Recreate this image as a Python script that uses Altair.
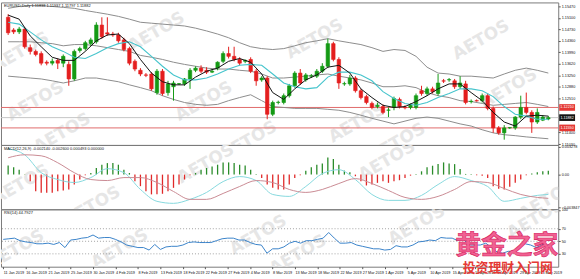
import json
import altair as alt
import pandas as pd

# ---------------- data ----------------
date_labels = ["11 Jan 2019", "16 Jan 2019", "21 Jan 2019", "25 Jan 2019", "30 Jan 2019",
               "4 Feb 2019", "8 Feb 2019", "13 Feb 2019", "18 Feb 2019", "22 Feb 2019",
               "27 Feb 2019", "4 Mar 2019", "8 Mar 2019", "13 Mar 2019", "18 Mar 2019",
               "22 Mar 2019", "27 Mar 2019", "1 Apr 2019", "5 Apr 2019", "10 Apr 2019",
               "15 Apr 2019", "19 Apr 2019", "24 Apr 2019", "29 Apr 2019", "3 May 2019"]

opens = [1.1512, 1.1471, 1.1465, 1.1474, 1.1414, 1.1402, 1.1395, 1.1367, 1.1364, 1.1373,
         1.1364, 1.1360, 1.1313, 1.1405, 1.1411, 1.1427, 1.1433, 1.1487, 1.1462, 1.1458,
         1.1455, 1.1439, 1.1411, 1.1370, 1.1341, 1.1326, 1.1329, 1.1269, 1.1338, 1.1269,
         1.1288, 1.1297, 1.1297, 1.1313, 1.1341, 1.1348, 1.1341, 1.1335, 1.1348, 1.1370,
         1.1395, 1.1386, 1.1376, 1.1370, 1.1376, 1.1338, 1.1310, 1.1316, 1.1199, 1.1237,
         1.1237, 1.1259, 1.1291, 1.1332, 1.1310, 1.1322, 1.1322, 1.1338, 1.1354, 1.1427,
         1.1376, 1.1297, 1.1297, 1.1316, 1.1275, 1.1256, 1.1234, 1.1224, 1.1224, 1.1212,
         1.1221, 1.1247, 1.1221, 1.1221, 1.1221, 1.1275, 1.1266, 1.1281, 1.1266, 1.1307,
         1.1310, 1.1307, 1.1288, 1.1297, 1.1240, 1.1243, 1.1243, 1.1259, 1.1218, 1.1155,
         1.1139, 1.1155, 1.1155, 1.1190, 1.1221, 1.1205, 1.1174, 1.1180, 1.11838]
highs = [1.1522, 1.1477, 1.1481, 1.1481, 1.1424, 1.1408, 1.1402, 1.1373, 1.1379, 1.1379,
         1.1392, 1.1370, 1.1408, 1.1417, 1.1436, 1.1446, 1.1496, 1.1512, 1.1512, 1.1465,
         1.1462, 1.1446, 1.1417, 1.1376, 1.1348, 1.1332, 1.1335, 1.1345, 1.1345, 1.1307,
         1.1307, 1.1300, 1.1316, 1.1348, 1.1354, 1.1357, 1.1351, 1.1345, 1.1370, 1.1402,
         1.1417, 1.1417, 1.1383, 1.1376, 1.1383, 1.1345, 1.1322, 1.1322, 1.1243, 1.1243,
         1.1266, 1.1297, 1.1338, 1.1345, 1.1332, 1.1329, 1.1345, 1.1364, 1.1443, 1.1433,
         1.1383, 1.1304, 1.1326, 1.1322, 1.1281, 1.1262, 1.1240, 1.1237, 1.1231, 1.1221,
         1.1256, 1.1253, 1.1228, 1.1234, 1.1266, 1.1291, 1.1288, 1.1288, 1.1329, 1.1313,
         1.1316, 1.1313, 1.1322, 1.1307, 1.1247, 1.1247, 1.1266, 1.1266, 1.1224, 1.1161,
         1.1164, 1.1158, 1.1193, 1.1259, 1.1269, 1.1212, 1.1218, 1.1196, 1.11937]
lows = [1.1455, 1.1458, 1.1458, 1.1411, 1.1392, 1.1386, 1.1357, 1.1357, 1.1357, 1.1345,
        1.1351, 1.1291, 1.1307, 1.1398, 1.1405, 1.1420, 1.1427, 1.1443, 1.1452, 1.1449,
        1.1430, 1.1402, 1.1357, 1.1338, 1.1322, 1.1319, 1.1275, 1.1262, 1.1259, 1.1259,
        1.1243, 1.1294, 1.1291, 1.1281, 1.1335, 1.1332, 1.1329, 1.1332, 1.1341, 1.1364,
        1.1379, 1.1370, 1.1357, 1.1364, 1.1332, 1.1291, 1.1304, 1.1183, 1.1193, 1.1231,
        1.1231, 1.1253, 1.1285, 1.1294, 1.1304, 1.1316, 1.1316, 1.1332, 1.1348, 1.1370,
        1.1281, 1.1291, 1.1291, 1.1269, 1.1247, 1.1231, 1.1215, 1.1218, 1.1199, 1.1190,
        1.1212, 1.1218, 1.1215, 1.1215, 1.1215, 1.1259, 1.1259, 1.1266, 1.1259, 1.1300,
        1.1304, 1.1281, 1.1281, 1.1231, 1.1234, 1.1240, 1.1237, 1.1212, 1.1139, 1.1133,
        1.1117, 1.1152, 1.1149, 1.1183, 1.1199, 1.1139, 1.1168, 1.1177, 1.11797]
closes = [1.1462, 1.1465, 1.1474, 1.1417, 1.1402, 1.1392, 1.1364, 1.1364, 1.1370, 1.1364,
          1.1386, 1.1313, 1.1402, 1.1411, 1.1430, 1.1439, 1.1487, 1.1449, 1.1458, 1.1455,
          1.1436, 1.1408, 1.1364, 1.1345, 1.1329, 1.1325, 1.1281, 1.1338, 1.1266, 1.1297,
          1.1300, 1.1298, 1.1313, 1.1341, 1.1348, 1.1338, 1.1335, 1.1338, 1.1367, 1.1395,
          1.1386, 1.1376, 1.1364, 1.1373, 1.1338, 1.1307, 1.1316, 1.1199, 1.1237, 1.1238,
          1.1259, 1.1291, 1.1332, 1.1300, 1.1326, 1.1323, 1.1338, 1.1354, 1.1427, 1.1376,
          1.1300, 1.1298, 1.1316, 1.1275, 1.1253, 1.1237, 1.1221, 1.1228, 1.1205, 1.1213,
          1.1250, 1.1224, 1.1220, 1.1228, 1.1259, 1.1266, 1.1281, 1.1272, 1.1300, 1.1306,
          1.1311, 1.1288, 1.1300, 1.1237, 1.1241, 1.1242, 1.1259, 1.1218, 1.1155, 1.1139,
          1.1155, 1.1156, 1.1190, 1.1221, 1.1205, 1.1174, 1.1205, 1.1190, 1.11882]

# Bollinger bands and moving averages, read every second bar
bb_upper = [1.1541, 1.1547, 1.1550, 1.1550, 1.1547, 1.1544, 1.1541, 1.1534, 1.1528, 1.1522,
            1.1515, 1.1506, 1.1496, 1.1493, 1.1490, 1.1487, 1.1484, 1.1477, 1.1468, 1.1458,
            1.1446, 1.1430, 1.1417, 1.1411, 1.1408, 1.1411, 1.1420, 1.1430, 1.1436, 1.1443,
            1.1436, 1.1430, 1.1424, 1.1414, 1.1402, 1.1408, 1.1405, 1.1386, 1.1351, 1.1332,
            1.1329, 1.1322, 1.1322, 1.1319, 1.1316, 1.1329, 1.1341, 1.1348, 1.1341, 1.1332]
bb_middle = [1.1433, 1.1433, 1.1433, 1.1430, 1.1427, 1.1420, 1.1424, 1.1424, 1.1420, 1.1414,
             1.1408, 1.1402, 1.1389, 1.1383, 1.1376, 1.1367, 1.1360, 1.1354, 1.1348, 1.1345,
             1.1345, 1.1341, 1.1338, 1.1329, 1.1316, 1.1316, 1.1319, 1.1322, 1.1326, 1.1329,
             1.1322, 1.1316, 1.1310, 1.1300, 1.1288, 1.1288, 1.1291, 1.1285, 1.1269, 1.1259,
             1.1253, 1.1243, 1.1240, 1.1234, 1.1228, 1.1231, 1.1234, 1.1237, 1.1231, 1.1224]
bb_lower = [1.1322, 1.1319, 1.1316, 1.1313, 1.1307, 1.1300, 1.1307, 1.1316, 1.1316, 1.1310,
            1.1304, 1.1294, 1.1285, 1.1275, 1.1259, 1.1247, 1.1237, 1.1231, 1.1228, 1.1231,
            1.1243, 1.1253, 1.1262, 1.1243, 1.1224, 1.1221, 1.1218, 1.1218, 1.1218, 1.1215,
            1.1212, 1.1205, 1.1196, 1.1186, 1.1177, 1.1168, 1.1177, 1.1186, 1.1190, 1.1186,
            1.1177, 1.1168, 1.1161, 1.1149, 1.1139, 1.1133, 1.1130, 1.1126, 1.1123, 1.1120]
ma_fast = [1.1519, 1.1506, 1.1452, 1.1417, 1.1383, 1.1373, 1.1373, 1.1402, 1.1436, 1.1455,
           1.1458, 1.1427, 1.1376, 1.1332, 1.1304, 1.1294, 1.1294, 1.1319, 1.1338, 1.1348,
           1.1370, 1.1379, 1.1367, 1.1329, 1.1269, 1.1247, 1.1281, 1.1310, 1.1326, 1.1351,
           1.1357, 1.1332, 1.1281, 1.1253, 1.1228, 1.1221, 1.1224, 1.1240, 1.1259, 1.1281,
           1.1297, 1.1297, 1.1269, 1.1243, 1.1205, 1.1174, 1.1161, 1.1193, 1.1196, 1.1193]
ma_slow = [1.1496, 1.1490, 1.1465, 1.1439, 1.1417, 1.1402, 1.1383, 1.1379, 1.1395, 1.1414,
           1.1427, 1.1433, 1.1417, 1.1386, 1.1354, 1.1326, 1.1310, 1.1310, 1.1316, 1.1329,
           1.1345, 1.1357, 1.1360, 1.1357, 1.1329, 1.1300, 1.1288, 1.1281, 1.1285, 1.1319,
           1.1335, 1.1335, 1.1326, 1.1307, 1.1272, 1.1250, 1.1234, 1.1228, 1.1237, 1.1253,
           1.1266, 1.1281, 1.1281, 1.1275, 1.1256, 1.1224, 1.1199, 1.1193, 1.1183, 1.1183]

macd_hist = [0.00109, 0.00086, 0.00058, 0.00004, -0.00078, -0.00195, -0.00214, -0.00214, -0.00214, -0.00195,
             -0.00187, -0.00175, -0.00117, -0.00058, -0.00008, 0.00019, 0.00078, 0.00117, 0.00136, 0.00136,
             0.00117, 0.00058, 0.00019, -0.00078, -0.00136, -0.00195, -0.00233, -0.00233, -0.00226, -0.00195,
             -0.00156, -0.00117, -0.00058, -0.00008, 0.00019, 0.00058, 0.00078, 0.00097, 0.00117, 0.00144,
             0.00144, 0.00136, 0.00117, 0.00109, 0.00058, 0.00008, -0.00039, -0.00117, -0.00156, -0.00175,
             -0.00175, -0.00117, -0.00039, -0.00008, 0.00047, 0.00086, 0.00117, 0.00132, 0.00202, 0.00183,
             0.00117, 0.00047, 0.00027, -0.00019, -0.00078, -0.00128, -0.00117, -0.00097, -0.00078, -0.00097,
             -0.00078, -0.00066, -0.00039, -0.00012, 0.00008, 0.00039, 0.00086, 0.00105, 0.00124, 0.00144,
             0.00132, 0.00124, 0.00066, 0.00008, 0.00008, -0.00008, -0.00012, -0.00039, -0.00136, -0.00167,
             -0.00175, -0.00144, -0.00097, -0.00058, -0.00008, 0.00012, 0.00027, 0.00039, 0.00047]
# MACD lines, read every third bar (plus the last bar)
macd_main = [0.00304, 0.00234, 0.00023, -0.00058, -0.00093, -0.00035, 0.00070, 0.00023, -0.00175, -0.00315,
             -0.00339, -0.00292, -0.00210, -0.00082, -0.00023, -0.00070, -0.00234, -0.00257, -0.00140, 0.00012,
             0.00058, -0.00058, -0.00234, -0.00304, -0.00304, -0.00245, -0.00117, -0.00023, -0.00070, -0.00140,
             -0.00315, -0.00280, -0.00245, -0.00234]
macd_signal = [0.00199, 0.00234, 0.00222, 0.00140, 0.00023, -0.00058, -0.00070, -0.00035, -0.00035, -0.00093,
               -0.00199, -0.00292, -0.00292, -0.00222, -0.00140, -0.00070, -0.00093, -0.00175, -0.00210, -0.00175,
               -0.00105, -0.00047, -0.00105, -0.00187, -0.00269, -0.00292, -0.00257, -0.00175, -0.00082, -0.00093,
               -0.00164, -0.00234, -0.00269, -0.00280]

rsi_values = [53, 54, 55, 51, 49, 48, 46, 46, 47, 45,
              48, 40, 52, 53, 55, 56, 60, 55, 56, 56,
              53, 49, 44, 42, 40, 40, 36, 45, 37, 41,
              42, 42, 44, 48, 49, 48, 48, 48, 51, 54,
              55, 55, 52, 52, 48, 45, 44, 31, 38, 38,
              41, 47, 50, 47, 51, 51, 53, 55, 64, 55,
              47, 47, 48, 44, 42, 40, 38, 38, 36, 37,
              43, 41, 41, 44, 49, 50, 52, 51, 56, 55,
              55, 51, 53, 44, 44, 44, 47, 40, 33, 31,
              34, 34, 41, 46, 44, 40, 45, 44, 44.79]

level_lines = [1.12210, 1.11550]
current_price = 1.11882
price_ticks = [1.15470, 1.15100, 1.14730, 1.14360, 1.13990, 1.13620, 1.13250,
               1.12880, 1.12510, 1.11400, 1.11030]
macd_ticks = [0.003278, 0.0, -0.003847]
rsi_levels = [70, 50, 30]
rsi_ticks = [100, 70, 50, 30]

title_main = "EURUSD,Daily  1.11838 1.11937 1.11797 1.11882"
title_macd = "MACD(12,26,9) -0.002140 -0.002600 0.000493 0.000000"
title_rsi = "RSI(14) 44.7927"

# ---------------- layout / style ----------------
N = len(closes)
bar_index = list(range(N))
band_index = list(range(0, N, 2))
macd_line_index = list(range(0, N, 3)) + [N - 1]

W = 563
H_MAIN, H_MACD, H_RSI = 144, 65, 58
FONT = "Liberation Sans"
UP, DOWN = "#149a14", "#e41e1e"
BOX_PATH = "M-1,-0.42L1,-0.42L1,0.42L-1,0.42Z"

X_SCALE = alt.Scale(domain=[-0.4, 98.9], nice=False, zero=False)
PRICE_SCALE = alt.Scale(domain=[1.1100, 1.1560], nice=False, zero=False)
MACD_SCALE = alt.Scale(domain=[-0.00409, 0.0035], nice=False, zero=False)
RSI_SCALE = alt.Scale(domain=[9.5, 101], nice=False, zero=False)

X_NONE = alt.X("i:Q", scale=X_SCALE, axis=None)


def right_axis(values, fmt=None, label_expr=None):
    kw = dict(values=values, orient="right", labelFontSize=3.8, labelFont=FONT,
              tickSize=2, labelPadding=1, domain=False, tickColor="#555",
              labelColor="#111", grid=False, minExtent=17, maxExtent=17,
              labelOverlap=False, labelFlush=False)
    if fmt:
        kw["format"] = fmt
    if label_expr:
        kw["labelExpr"] = label_expr
    return alt.Axis(**kw)


PRICE_AXIS = right_axis(price_ticks, fmt=".5f")
MACD_AXIS = right_axis(macd_ticks,
                       label_expr="datum.value == 0 ? '0.00' : format(datum.value, '.6f')")
RSI_AXIS = right_axis(rsi_ticks, fmt="d")


def py(field):
    return alt.Y(field, scale=PRICE_SCALE, axis=PRICE_AXIS, title=None)


def text_layer(text, x, y, size, color, align="left", weight="normal",
               font=FONT, angle=0, clip=False, stroke=None, stroke_width=0):
    kw = dict(align=align, baseline="middle", fontSize=size, color=color,
              fontWeight=weight, font=font, angle=angle, clip=clip)
    if stroke:
        kw["stroke"] = stroke
        kw["strokeWidth"] = stroke_width
    return alt.Chart(pd.DataFrame({"t": [text]})).mark_text(**kw).encode(
        text="t:N", x=alt.value(x), y=alt.value(y))


def watermarks(points):
    return [text_layer("AETOS", px, pyy, 17, "#e6e6e6", align="center",
                       weight="bold", font="DejaVu Sans", angle=330, clip=True)
            for px, pyy in points]


def line_layer(idx, vals, color, scale, axis, width=1.0, interp="linear"):
    df = pd.DataFrame({"i": idx, "v": vals})
    return alt.Chart(df).mark_line(color=color, strokeWidth=width,
                                   interpolate=interp).encode(
        x=X_NONE, y=alt.Y("v:Q", scale=scale, axis=axis, title=None))


# ---------------- main price panel ----------------
candles = pd.DataFrame({"i": bar_index, "open": opens, "high": highs,
                        "low": lows, "close": closes})
up_cond = "datum.close >= datum.open"

wicks = alt.Chart(candles).mark_rule(strokeWidth=1).encode(
    x=X_NONE, y=py("low:Q"), y2="high:Q",
    color=alt.condition(up_cond, alt.value(UP), alt.value(DOWN)),
)
bodies = alt.Chart(candles).mark_bar(size=3.5, strokeWidth=0.6).encode(
    x=X_NONE, y=py("open:Q"), y2="close:Q",
    color=alt.condition(up_cond, alt.value(UP), alt.value(DOWN)),
    stroke=alt.condition(up_cond, alt.value(UP), alt.value(DOWN)),
)

level_rules = alt.Chart(pd.DataFrame({"p": level_lines})).mark_rule(
    color="#e06a6a", strokeWidth=1).encode(y=py("p:Q"))
current_rule = alt.Chart(pd.DataFrame({"p": [current_price]})).mark_rule(
    color="#c4c4c4", strokeWidth=1).encode(y=py("p:Q"))

level_df = pd.DataFrame({"p": level_lines, "label": [f"{v:.5f}" for v in level_lines]})
current_df = pd.DataFrame({"p": [current_price], "label": [f"{current_price:.5f}"]})


def price_box(df, fill):
    box = alt.Chart(df).mark_point(shape=BOX_PATH, filled=True, size=256,
                                   opacity=1, color=fill).encode(
        x=alt.value(W + 9), y=py("p:Q"))
    txt = alt.Chart(df).mark_text(fontSize=3.8, font=FONT, color="white",
                                  align="center", baseline="middle").encode(
        x=alt.value(W + 9), y=py("p:Q"), text="label:N")
    return [box, txt]


main_layers = (
    watermarks([(20, 50), (35, 100), (62, 132), (157, 30), (205, 100), (317, 37),
                (360, 122), (485, 38), (513, 87), (400, 142), (250, 140)])
    + [level_rules, current_rule,
       line_layer(band_index, bb_upper, "#8c8c8c", PRICE_SCALE, PRICE_AXIS),
       line_layer(band_index, bb_middle, "#8c8c8c", PRICE_SCALE, PRICE_AXIS),
       line_layer(band_index, bb_lower, "#8c8c8c", PRICE_SCALE, PRICE_AXIS),
       wicks, bodies,
       line_layer(band_index, ma_slow, "#45c4cc", PRICE_SCALE, PRICE_AXIS, 1.1),
       line_layer(band_index, ma_fast, "#111111", PRICE_SCALE, PRICE_AXIS, 1.0)]
    + price_box(level_df, "#e53935") + price_box(current_df, "#111111")
    + [text_layer(title_main, 3, 4, 4, "#111")]
)
main = alt.layer(*main_layers).properties(width=W, height=H_MAIN)

# ---------------- MACD panel ----------------
hist_df = pd.DataFrame({"i": bar_index, "h": macd_hist})
hist = alt.Chart(hist_df).mark_bar(size=1.3).encode(
    x=X_NONE,
    y=alt.Y("h:Q", scale=MACD_SCALE, title=None, axis=MACD_AXIS),
    y2=alt.datum(0),
    color=alt.condition("datum.h >= 0", alt.value("#2a8c2a"), alt.value("#e02828")),
)
macd_layers = (
    watermarks([(207, 19), (390, 16), (552, 56), (92, 62), (20, 40)])
    + [hist,
       line_layer(macd_line_index, macd_main, "#86d9de", MACD_SCALE, MACD_AXIS, 1.0, "monotone"),
       line_layer(macd_line_index, macd_signal, "#c98a93", MACD_SCALE, MACD_AXIS, 1.0, "monotone"),
       text_layer(title_macd, 3, 4, 4, "#111")]
)
macd = alt.layer(*macd_layers).properties(width=W, height=H_MACD)

# ---------------- RSI panel ----------------
label_expr = json.dumps(date_labels) + "[round(datum.value / 4)]"
x_axis = alt.Axis(values=list(range(0, 4 * len(date_labels), 4)), labelExpr=label_expr,
                  labelFontSize=3.8, labelFont=FONT, labelAlign="left",
                  labelBaseline="top", tickSize=2, labelPadding=2, domain=False,
                  tickColor="#555", labelColor="#111", grid=False,
                  labelOverlap=False, labelFlush=False, minExtent=12, maxExtent=12)

rsi_df = pd.DataFrame({"i": bar_index, "r": rsi_values})
rsi_line = alt.Chart(rsi_df).mark_line(color="#3a83c9", strokeWidth=1).encode(
    x=alt.X("i:Q", scale=X_SCALE, axis=x_axis, title=None),
    y=alt.Y("r:Q", scale=RSI_SCALE, title=None, axis=RSI_AXIS),
)
rsi_rules = alt.Chart(pd.DataFrame({"lvl": rsi_levels})).mark_rule(
    color="#8a8a8a", strokeWidth=0.8, strokeDash=[1, 2]).encode(
    y=alt.Y("lvl:Q", scale=RSI_SCALE, axis=RSI_AXIS, title=None))

rsi_layers = (
    watermarks([(260, 26), (420, 16), (300, 46), (15, 41), (540, 10), (120, 40)])
    + [rsi_rules, rsi_line,
       text_layer(title_rsi, 3, 4, 4, "#111"),
       text_layer("黄金之家", 511, 37, 26, "#f06292", align="center", weight="bold",
                  font="Noto Sans CJK SC", stroke="#d81b60", stroke_width=0.6),
       text_layer("投资理财入门网", 512, 59, 13, "#e53935", align="center", weight="bold",
                  font="Noto Sans CJK SC")]
)
rsi = alt.layer(*rsi_layers).properties(width=W, height=H_RSI)

chart = alt.vconcat(main, macd, rsi, spacing=0, bounds="flush").properties(
    padding=0, background="white"
).configure_view(stroke="#7a7a7a", strokeWidth=1)

chart.save("out.html", embed_options={"renderer": "svg", "actions": False})
